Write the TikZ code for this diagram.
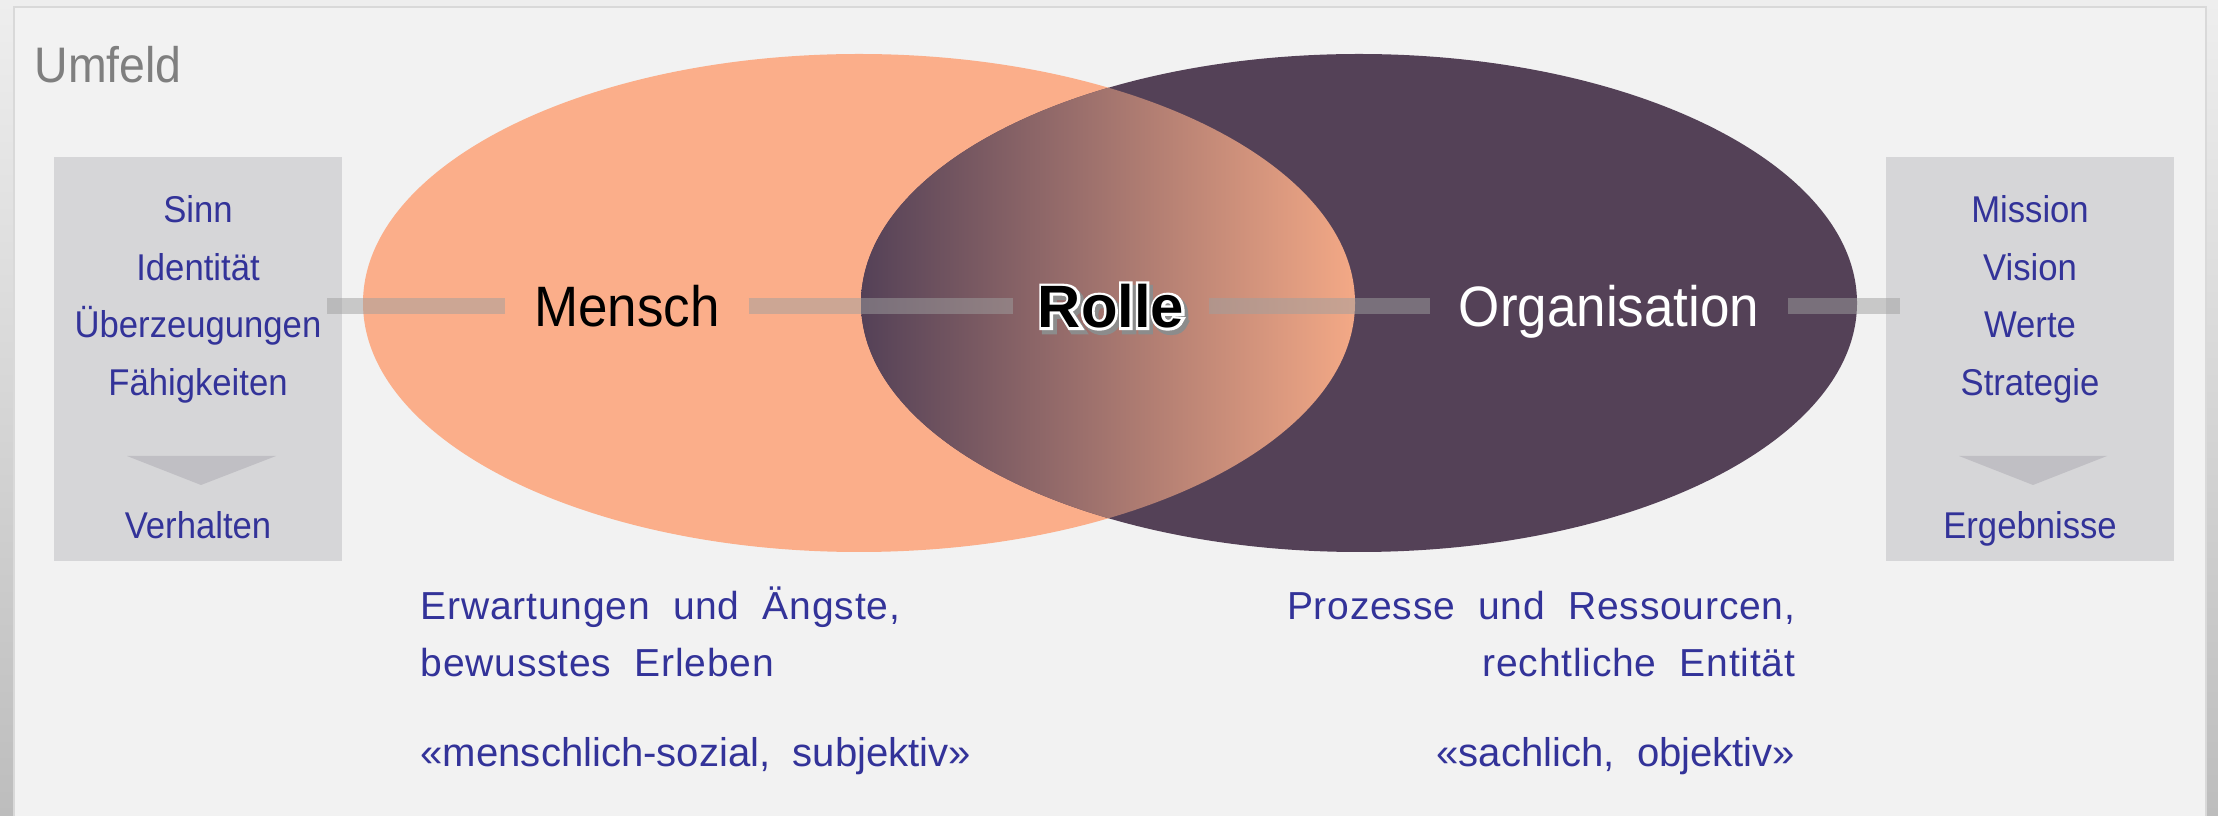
\documentclass[tikz,border=0pt]{standalone}
\usepackage{fontspec}
\setmainfont{Liberation Sans}[FakeStretch=0.93]
\newfontfamily\plainface{Liberation Sans}
\newfontfamily\wideface{Liberation Sans}[LetterSpace=2]
\definecolor{bgtop}{HTML}{EEEEEE}
\definecolor{bgbottom}{HTML}{BDBDBD}
\definecolor{panelgray}{HTML}{F2F2F2}
\definecolor{panelline}{HTML}{D9D9D9}
\definecolor{umfeldgray}{HTML}{7F7F7F}
\definecolor{boxgray}{HTML}{D6D6D8}
\definecolor{arrowgray}{HTML}{C0BFC4}
\definecolor{textblue}{HTML}{333399}
\definecolor{salmon}{HTML}{FBAE8A}
\definecolor{plum}{HTML}{544157}
\definecolor{bargray}{HTML}{9F9F9F}
% glyphs filled and stroked (outline width, stroke colour)
\newcommand\strokedtext[3]{\special{pdf:literal direct 2 Tr #1 w #2 RG}#3\special{pdf:literal direct 0 Tr}}
\begin{document}
\begin{tikzpicture}[x=0.01cm,y=-0.01cm,
  sidebox/.style={fill=boxgray,minimum width=81.9pt,minimum height=114.9pt,inner sep=0pt},
  boxtext/.style={text=textblue,font=\fontsize{10.6}{12}\selectfont,anchor=base,inner sep=0pt},
  core/.style={font=\fontsize{16.2}{18}\selectfont,text height=11.6pt,text depth=0pt,inner ysep=0pt,inner xsep=8pt},
  rolletext/.style={font=\plainface\bfseries\fontsize{17}{19}\selectfont,text height=12.2pt,text depth=0pt,inner ysep=0pt,inner xsep=7pt},
  bar/.style={draw=bargray,draw opacity=0.5,line width=4.3pt},
  note/.style={text=textblue,inner sep=0pt,font=\wideface\fontsize{11.1}{13}\selectfont},
  tag/.style={text=textblue,inner sep=0pt,font=\plainface\fontsize{11.4}{13}\selectfont}]
\useasboundingbox (0,0) rectangle (2218,816);
% background and panel
\shade[top color=bgtop,bottom color=bgbottom] (0,0) rectangle (2218,816);
\draw[fill=panelgray,draw=panelline,line width=0.6pt] (14,7) rectangle (2206,840);
\node[text=umfeldgray,anchor=base west,inner sep=0pt,font=\fontsize{14.2}{16}\selectfont] (umfeld) at (34,83) {Umfeld};
% the two ellipses
\fill[salmon] (859,303) ellipse (496 and 249);
\fill[plum] (1359,303) ellipse (498 and 249);
\begin{scope}
\clip (859,303) ellipse (496 and 249);
\clip (1359,303) ellipse (498 and 249);
\shade[left color=plum,right color=salmon!97!black] (861,54) rectangle (1355,552);
\end{scope}
% side boxes
\node[sidebox] (lbox) at (198,359) {};
\node[sidebox] (rbox) at (2030,359) {};
\foreach \t [count=\i] in {Sinn,Identität,Überzeugungen,Fähigkeiten}
  \node[boxtext] (lval\i) at (198,{165+57.6*\i}) {\t};
\foreach \t [count=\i] in {Mission,Vision,Werte,Strategie}
  \node[boxtext] (rval\i) at (2030,{165+57.6*\i}) {\t};
\fill[arrowgray] (127,456) -- (276,456) -- (201,485) -- cycle;
\fill[arrowgray] (1959,456) -- (2107,456) -- (2033,485) -- cycle;
\node[boxtext] (lres) at (198,539) {Verhalten};
\node[boxtext] (rres) at (2030,539) {Ergebnisse};
% main labels
\node[core] (mensch) at (627,306) {Mensch};
\node[core,text=white] (orga) at (1609,306) {Organisation};
\node[rolletext,text=black!45,xshift=0.9pt,yshift=-1.1pt] (rolleshadow) at (1111,306) {\strokedtext{1.8}{0.55 0.55 0.55}{Rolle}};
\node[rolletext,text=white] (rollehalo) at (1111,306) {\strokedtext{1.5}{1 1 1}{Rolle}};
\node[rolletext] (rolle) at (1111,306) {Rolle};
% connectors
\coordinate (lport) at (327,306);
\coordinate (rport) at (1900,306);
\draw[bar] (lport) -- (mensch);
\draw[bar] (mensch) -- (rolle);
\draw[bar] (rolle) -- (orga);
\draw[bar] (orga) -- (rport);
% notes below
\node[note,anchor=base west] (mnote1) at (420,620) {Erwartungen\ \ und\ \ Ängste,};
\node[note,anchor=base west] (mnote2) at (420,677) {bewusstes\ \ Erleben};
\node[tag,anchor=base west] (mtag) at (420,767) {«menschlich-sozial,\ \ subjektiv»};
\node[note,anchor=base east] (onote1) at (1796,620) {Prozesse\ \ und\ \ Ressourcen,};
\node[note,anchor=base east] (onote2) at (1796,677) {rechtliche\ \ Entität};
\node[tag,anchor=base east] (otag) at (1796,767) {«sachlich,\ \ objektiv»};
\end{tikzpicture}
\end{document}
